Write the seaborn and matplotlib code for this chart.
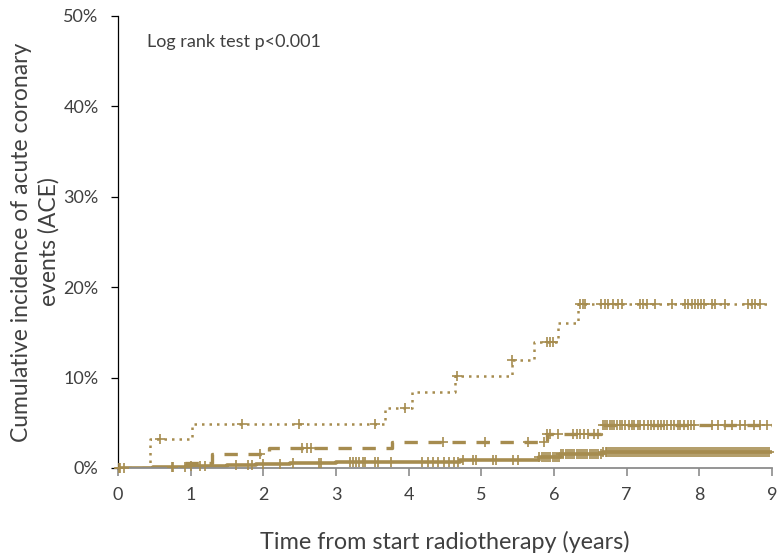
import numpy as np
import pandas as pd
import matplotlib
matplotlib.use("Agg")
import matplotlib.pyplot as plt
import seaborn as sns
from matplotlib.ticker import FuncFormatter

# ---------------- data ----------------
x_ticks = [0, 1, 2, 3, 4, 5, 6, 7, 8, 9]
y_ticks = [0, 10, 20, 30, 40, 50]
t_end = 9

# step curves (time in years, cumulative incidence in %)
high_t = [0, 0.44, 1.02, 3.68, 4.04, 4.64, 5.42, 5.73, 6.05, 6.33]
high_v = [0, 3.2, 4.85, 6.6, 8.4, 10.2, 12.0, 13.9, 16.0, 18.1]

mid_t = [0, 0.85, 1.30, 2.08, 3.77, 5.90, 6.64]
mid_v = [0, 0.6, 1.5, 2.2, 2.9, 3.8, 4.8]

low_t = [0, 0.48, 0.94, 1.50, 1.90, 2.37, 3.00, 3.80, 4.70, 5.80, 6.08, 6.67]
low_v = [0, 0.1, 0.2, 0.35, 0.45, 0.6, 0.63, 0.7, 0.85, 1.2, 1.5, 1.8]

# censoring times
high_c = [0.58, 1.70, 2.49, 3.53, 3.95, 4.66, 5.42, 5.90, 5.94, 5.98,
          6.36, 6.40, 6.42, 6.65, 6.70, 6.74, 6.81, 6.88, 6.93, 7.18,
          7.22, 7.28, 7.39, 7.63, 7.80, 7.84, 7.90, 7.94, 7.98, 8.02,
          8.07, 8.18, 8.21, 8.35, 8.67, 8.72, 8.76, 8.83]

mid_c = [0.03, 1.95, 2.53, 2.60, 2.66, 4.47, 5.05, 5.64, 5.86, 5.90,
         5.95, 6.06, 6.26, 6.31, 6.36, 6.41, 6.47, 6.55, 6.60,
         6.67, 6.70, 6.73, 6.77, 6.80, 6.83, 6.87, 6.91, 6.94, 6.98,
         7.03, 7.07, 7.10, 7.15, 7.19, 7.24, 7.30, 7.34, 7.38, 7.43,
         7.47, 7.52, 7.56, 7.61, 7.65, 7.70, 7.74, 7.79, 7.84, 7.88,
         7.93, 8.17, 8.26, 8.36, 8.45, 8.56, 8.63, 8.75, 8.84, 8.93]

low_c = [0.02, 0.08, 0.74, 0.76, 0.92, 1.01, 1.13, 1.20, 1.63, 1.79,
         1.85, 2.00, 2.23, 2.41, 2.76, 2.79, 3.19, 3.23, 3.28, 3.31,
         3.37, 3.40, 3.54, 3.58, 3.76, 4.18, 4.27, 4.34, 4.41, 4.48,
         4.56, 4.62, 4.68, 4.75, 4.89, 4.93, 5.16, 5.20, 5.44, 5.51,
         5.80, 5.83, 5.86, 5.89, 5.92, 5.95, 5.98, 6.01, 6.04, 6.07,
         6.10, 6.13, 6.16, 6.19, 6.22, 6.25, 6.28, 6.31, 6.34, 6.37,
         6.40, 6.43, 6.46, 6.49, 6.52, 6.55, 6.58, 6.61, 6.64,
         6.68, 6.71, 6.73, 6.76, 6.79, 6.81, 6.84, 6.87, 6.90, 6.92,
         6.95, 6.98, 7.01, 7.03, 7.06, 7.09, 7.12, 7.14, 7.17, 7.20,
         7.23, 7.25, 7.28, 7.31, 7.34, 7.36, 7.39, 7.42, 7.45, 7.47,
         7.50, 7.53, 7.56, 7.58, 7.61, 7.64, 7.67, 7.69, 7.72, 7.75,
         7.78, 7.80, 7.83, 7.86, 7.89, 7.91, 7.94, 7.97, 8.00, 8.02,
         8.05, 8.08, 8.11, 8.13, 8.16, 8.19, 8.22, 8.24, 8.27, 8.30,
         8.33, 8.35, 8.38, 8.41, 8.44, 8.46, 8.49, 8.52, 8.55, 8.57,
         8.60, 8.63, 8.66, 8.68, 8.71, 8.74, 8.77, 8.79, 8.82, 8.85,
         8.88, 8.90, 8.93, 8.96]

# ---------------- style ----------------
sns.set_style("white")
plt.rcParams["font.family"] = ["Lato", "DejaVu Sans"]
COL = "#A68C4F"
TXT = "#404040"

fig = plt.figure(figsize=(7.79, 5.57), dpi=100)
ax = fig.add_axes([118 / 779, 1 - 468 / 557, (772 - 118) / 779, (468 - 16) / 557])

groups = [
    (high_t, high_v, high_c, (0, (1, 2.0)), 1.8),
    (mid_t, mid_v, mid_c, (0, (4, 3.2)), 2.4),
    (low_t, low_v, low_c, "-", 2.6),
]

for t, v, c, ls, lw in groups:
    df = pd.DataFrame({"t": list(t) + [t_end], "v": list(v) + [v[-1]]})
    sns.lineplot(data=df, x="t", y="v", ax=ax, color=COL, linestyle=ls,
                 linewidth=lw, drawstyle="steps-post", estimator=None,
                 sort=False)
    idx = np.searchsorted(np.array(t), np.array(c), side="right") - 1
    cdf = pd.DataFrame({"t": c, "v": np.array(v)[idx]})
    sns.scatterplot(data=cdf, x="t", y="v", ax=ax, marker="+", s=60,
                    color=COL, linewidth=1.2, clip_on=False, zorder=3)

ax.set_xlim(0, 9)
ax.set_ylim(0, 50)
ax.set_xticks(x_ticks)
ax.set_yticks(y_ticks)
ax.yaxis.set_major_formatter(FuncFormatter(lambda y, p: f"{y:.0f}%"))

for s in ["top", "right"]:
    ax.spines[s].set_visible(False)
ax.spines["left"].set_color("#000000")
ax.spines["left"].set_linewidth(0.9)
ax.spines["bottom"].set_color("#8c8c8c")
ax.spines["bottom"].set_linewidth(1.3)

ax.tick_params(axis="x", direction="out", length=6, width=1.2, color="#8c8c8c",
               labelsize=13, labelcolor=TXT, pad=8)
ax.tick_params(axis="y", direction="out", length=5, width=0.9, color="#000000",
               labelsize=13, labelcolor=TXT, pad=9)
ax.tick_params(left=True, bottom=True)

ax.set_xlabel("Time from start radiotherapy (years)", fontsize=16.8, color=TXT,
              labelpad=20)
ax.set_ylabel("Cumulative incidence of acute coronary\nevents (ACE)",
              fontsize=16.5, color=TXT, labelpad=3, linespacing=1.3)

ax.text(147 / 779, 1 - 42 / 557, "Log rank test p<0.001", transform=fig.transFigure,
        fontsize=13, color=TXT, va="center", ha="left")

fig.savefig("out.png", dpi=100)
